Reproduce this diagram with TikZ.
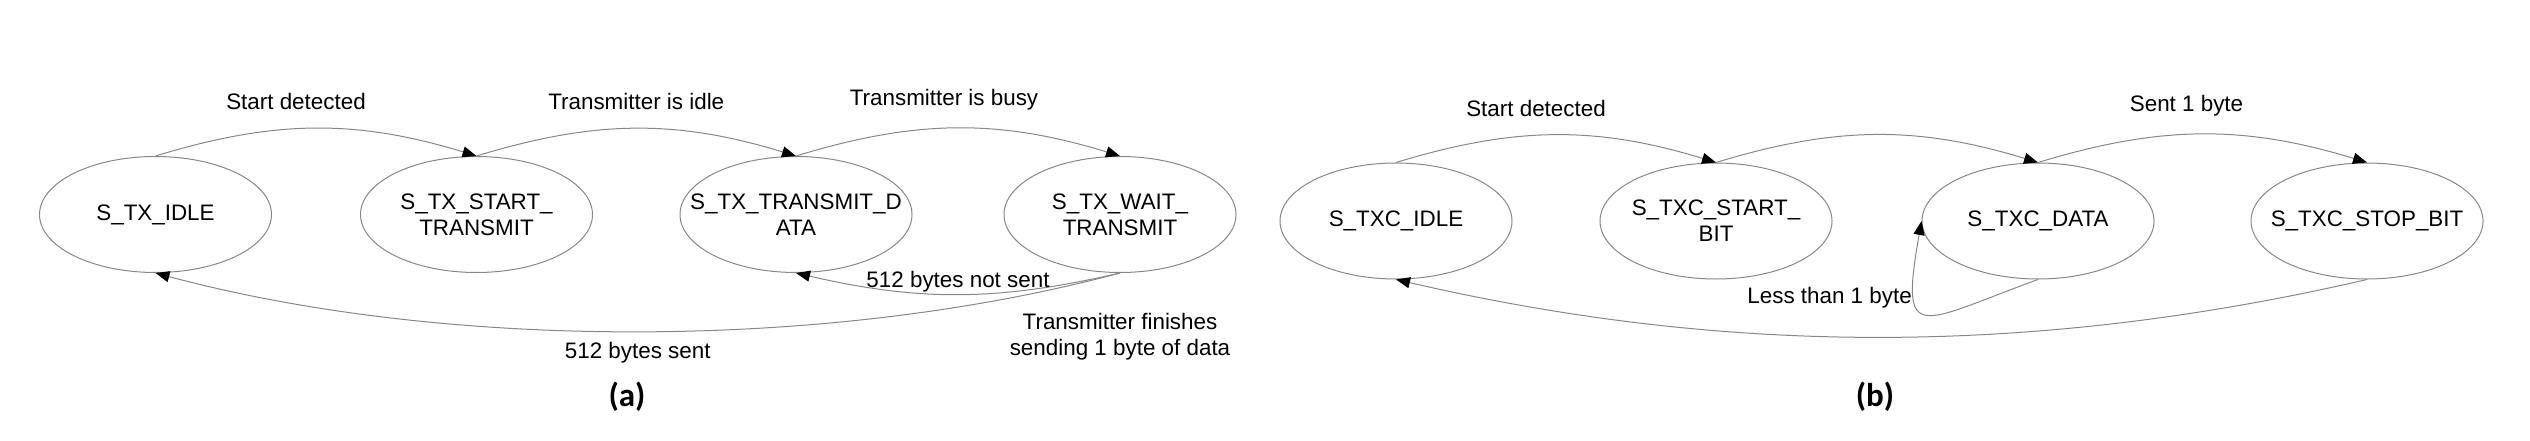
\documentclass[tikz,border=0pt]{standalone}
\usepackage{fontspec}
\setmainfont{Liberation Sans}
\newfontfamily\capfont{Carlito}
\usetikzlibrary{shapes.geometric, arrows.meta}
\definecolor{linegray}{RGB}{135,135,135}
\tikzset{
  state/.style={ellipse, draw=linegray, minimum width=116pt, minimum height=58pt},
  statename/.style={label={[align=center]center:#1}},
  panel/.style={font=\capfont\bfseries\fontsize{16.5}{19}\selectfont},
}

\begin{document}
\begin{tikzpicture}[x=0.5pt,y=0.5pt, >={Triangle[length=7pt,width=5.5pt,color=black]}, ->,
    line width=0.5pt, draw=linegray, inner sep=0pt, font=\fontsize{11.2}{13}\selectfont]
    \useasboundingbox (0,0) rectangle (2530,440);

    \node[state, statename={S\_TX\_IDLE}] (idle) at (155.5,225.5) {};
    \node[state, statename={S\_TX\_START\_\\TRANSMIT}] (start) at (476.5,225.5) {};
    \node[state, statename={S\_TX\_TRANSMIT\_D\\ATA}] (data) at (796,225.5) {};
    \node[state, statename={S\_TX\_WAIT\_\\TRANSMIT}] (wait) at (1120,225.5) {};

    \draw(idle.north) to[bend left=17] node[midway, above=9pt, xshift=-10pt]{Start detected} (start.north);
    \draw(start.north) to[bend left=17] node[midway, above=9pt]{Transmitter is idle} (data.north);
    \draw(data.north) to[bend left=17] node[midway, above=9pt, xshift=-7pt]{Transmitter is busy} (wait.north);
    \draw(wait.south) to[bend left=13] node[midway, above=1pt]{512 bytes not sent}
        node[pos=0, below=20pt, align=center]{Transmitter finishes\\sending 1 byte of data} (data.south);
    \draw(wait.south) to[out=195, in=-15, looseness=0.8] node[midway, below=5pt]{512 bytes sent} (idle.south);

    \node[panel] (capa) at (627,43) {(a)};

    \node[state, statename={S\_TXC\_IDLE}] (txidle) at (1396,219) {};
    \node[state, statename={S\_TXC\_START\_\\BIT}] (txstart) at (1716,219) {};
    \node[state, statename={S\_TXC\_DATA}] (txdata) at (2038,219) {};
    \node[state, statename={S\_TXC\_STOP\_BIT}] (txstop) at (2367,219) {};

    \draw(txidle.north) to[bend left=17] node[midway, above=9pt, xshift=-10pt]{Start detected} (txstart.north);
    \draw(txstart.north) to[bend left=17] (txdata.north);
    \draw(txdata.north) to[bend left=17] node[midway, above=9pt, xshift=-8pt]{Sent 1 byte} (txstop.north);
    \draw(txdata.south) to[out=200, in=-100, looseness=2.5] node[pos=0.7, left=1pt]{Less than 1 byte} (txdata.west);
    \draw(txstop.south) to[out=193, in=-13, looseness=0.9] (txidle.south);

    \node[panel] (capb) at (1875,43) {(b)};
\end{tikzpicture}
\end{document}
